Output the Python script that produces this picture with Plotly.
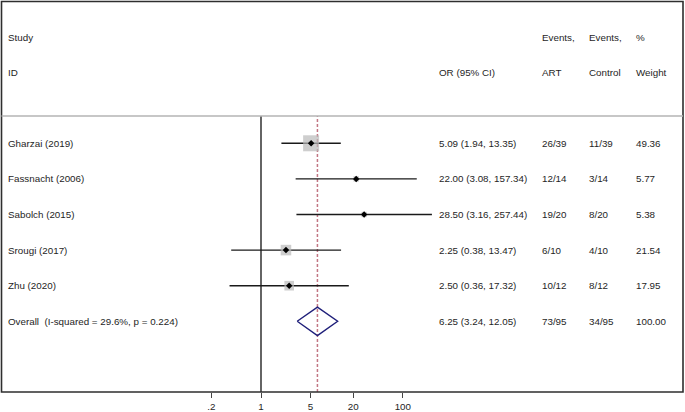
import plotly.graph_objects as go
import math

# ---- data ----
studies = ["Gharzai (2019)", "Fassnacht (2006)", "Sabolch (2015)", "Srougi (2017)", "Zhu (2020)"]
or_vals = [5.09, 22.00, 28.50, 2.25, 2.50]
ci_low = [1.94, 3.08, 3.16, 0.38, 0.36]
ci_high = [13.35, 157.34, 257.44, 13.47, 17.32]
events_art = ["26/39", "12/14", "19/20", "6/10", "10/12"]
events_ctrl = ["11/39", "3/14", "8/20", "4/10", "8/12"]
weights = [49.36, 5.77, 5.38, 21.54, 17.95]

overall_label = "Overall  (I-squared = 29.6%, p = 0.224)"
overall_or = 6.25
overall_low = 3.24
overall_high = 12.05
overall_art = "73/95"
overall_ctrl = "34/95"
overall_weight = 100.00

tick_vals = [0.2, 1, 5, 20, 100]
tick_text = [".2", "1", "5", "20", "100"]

header1 = ["Study", "Events,", "Events,", "%"]
header2 = ["ID", "OR (95% CI)", "ART", "Control", "Weight"]

# ---- layout helpers ----
W, H = 685, 412
B = 20
PH = H - B
FONT = dict(family="Liberation Sans, Arial, sans-serif", size=9.8, color="#1e1e1e")

def px(xp):
    return xp / W

rows = list(range(len(studies)))
overall_row = len(studies)

fig = go.Figure()

# CI lines
cx, cy = [], []
for i in rows:
    cx += [ci_low[i], ci_high[i], None]
    cy += [i, i, None]
fig.add_trace(go.Scatter(x=cx, y=cy, mode="lines",
                         line=dict(color="#1a1a1a", width=1.4),
                         hoverinfo="skip", showlegend=False))

# weight boxes
sizes = [16 * math.sqrt(w / max(weights)) for w in weights]
fig.add_trace(go.Scatter(x=or_vals, y=rows, mode="markers",
                         marker=dict(symbol="square", size=sizes, color="#b9b9b9",
                                     line=dict(width=0)),
                         showlegend=False, hoverinfo="skip"))
# point estimates
fig.add_trace(go.Scatter(x=or_vals, y=rows, mode="markers",
                         marker=dict(symbol="diamond", size=5, color="#000000"),
                         showlegend=False, hoverinfo="skip"))

# overall diamond
hh = 0.4
fig.add_trace(go.Scatter(
    x=[overall_low, overall_or, overall_high, overall_or, overall_low],
    y=[overall_row, overall_row - hh, overall_row, overall_row + hh, overall_row],
    mode="lines", line=dict(color="#1f1f7a", width=1.4),
    showlegend=False, hoverinfo="skip"))

ytop_px = 143.3
step = 35.6
y_top = -ytop_px / step
y_bot = (PH - ytop_px) / step

gray_y_paper = (PH - 116) / PH

shapes = []
# frame
shapes.append(dict(type="rect", xref="paper", yref="paper",
                   x0=px(1.5), x1=px(683), y0=0, y1=1 - 1.5 / PH,
                   line=dict(color="#2e2e2e", width=1.6), layer="above"))
# header separator
shapes.append(dict(type="line", xref="paper", yref="paper",
                   x0=px(1.5), x1=px(683), y0=gray_y_paper, y1=gray_y_paper,
                   line=dict(color="#b4b4b4", width=1.5)))
# null line
shapes.append(dict(type="line", xref="x", yref="paper", x0=1, x1=1,
                   y0=0, y1=gray_y_paper, line=dict(color="#111111", width=1.3),
                   layer="below"))
# overall dashed line
shapes.append(dict(type="line", xref="x", yref="paper", x0=overall_or, x1=overall_or,
                   y0=0, y1=gray_y_paper,
                   line=dict(color="#c27683", width=1.5, dash="3px,2px"),
                   layer="below"))

ann = []
def add_text(xpix, yval, text):
    ann.append(dict(x=px(xpix), xref="paper", y=yval, yref="y", text=text,
                    showarrow=False, xanchor="left", yanchor="middle", font=FONT,
                    borderpad=0, borderwidth=0))

col_study, col_or, col_art, col_ctrl, col_w = 8, 439, 542, 589, 636
# headers
y_h1 = (37 - ytop_px) / step
y_h2 = (72.7 - ytop_px) / step
add_text(col_study, y_h1, header1[0])
add_text(col_art, y_h1, header1[1])
add_text(col_ctrl, y_h1, header1[2])
add_text(col_w, y_h1, header1[3])
add_text(col_study, y_h2, header2[0])
add_text(col_or, y_h2, header2[1])
add_text(col_art, y_h2, header2[2])
add_text(col_ctrl, y_h2, header2[3])
add_text(col_w, y_h2, header2[4])

for i in rows:
    add_text(col_study, i, studies[i])
    add_text(col_or, i, f"{or_vals[i]:.2f} ({ci_low[i]:.2f}, {ci_high[i]:.2f})")
    add_text(col_art, i, events_art[i])
    add_text(col_ctrl, i, events_ctrl[i])
    add_text(col_w, i, f"{weights[i]:.2f}")

add_text(col_study, overall_row, overall_label)
add_text(col_or, overall_row, f"{overall_or:.2f} ({overall_low:.2f}, {overall_high:.2f})")
add_text(col_art, overall_row, overall_art)
add_text(col_ctrl, overall_row, overall_ctrl)
add_text(col_w, overall_row, f"{overall_weight:.2f}")

ppd = 70.9
x1_px = 261
r0 = -x1_px / ppd
r1 = r0 + W / ppd

fig.update_layout(
    width=W, height=H,
    margin=dict(l=0, r=0, t=0, b=B, pad=0),
    paper_bgcolor="white", plot_bgcolor="white",
    showlegend=False,
    shapes=shapes, annotations=ann,
    xaxis=dict(type="log", range=[r0, r1], tickvals=tick_vals, ticktext=tick_text,
               ticks="outside", ticklen=5, tickwidth=1.3, tickcolor="#444444",
               showgrid=False, zeroline=False, showline=False,
               tickfont=dict(family="Liberation Sans, Arial, sans-serif", size=9.8, color="#1e1e1e"),
               fixedrange=True),
    yaxis=dict(range=[y_bot, y_top], showticklabels=False, showgrid=False,
               zeroline=False, showline=False, ticks="", fixedrange=True),
)

fig.write_html("out.html", config={"displayModeBar": False},
               post_script="document.body.style.margin='0';document.body.style.overflow='hidden';")
